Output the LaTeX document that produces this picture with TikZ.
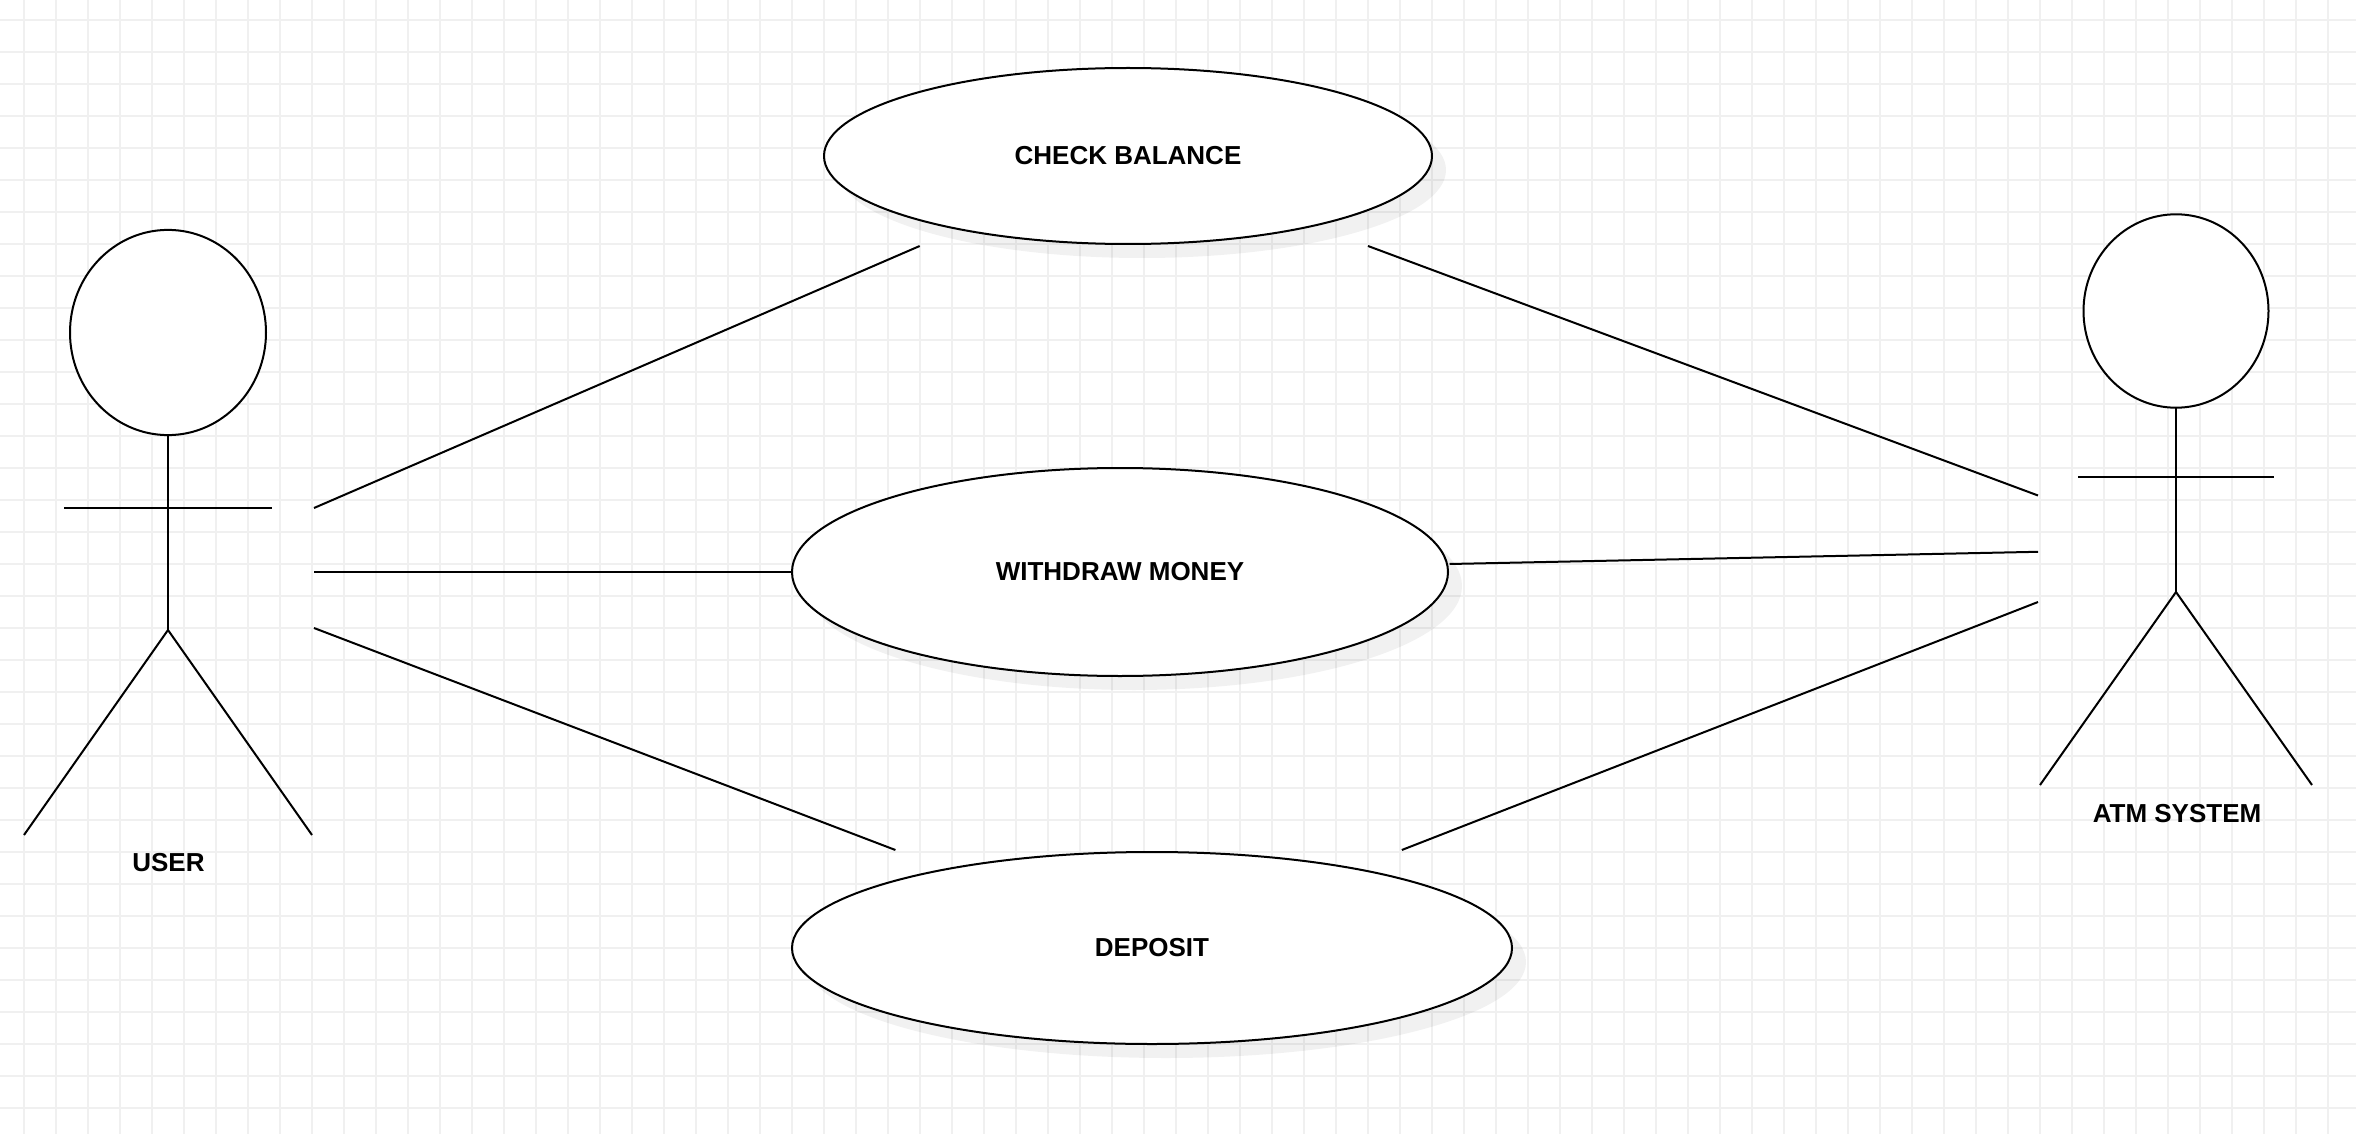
\documentclass[tikz,border=0pt]{standalone}
\usepackage{fontspec}
\setmainfont{Liberation Sans}
\usetikzlibrary{shapes.geometric}
\definecolor{gridc}{HTML}{F0F0F0}
\tikzset{
  px/.style={x=0.5pt,y=-0.5pt},
  usecase/.style={ellipse,draw=black,fill=white,line width=1pt,inner sep=0pt,outer sep=0pt,font=\fontsize{13pt}{15pt}\selectfont\bfseries,text=black},
  shadowell/.style={ellipse,fill=black,fill opacity=0.055,draw=none,inner sep=0pt,outer sep=0pt},
  head/.style={ellipse,draw=black,fill=white,line width=1pt,inner sep=0pt,outer sep=0pt},
  limb/.style={draw=black,line width=1pt,line cap=butt},
  link/.style={draw=black,line width=1pt,line cap=butt},
  lab/.style={inner sep=0pt,font=\fontsize{13pt}{15pt}\selectfont\bfseries,text=black},
  gridline/.style={draw=gridc,line width=0.8pt}
}
\begin{document}
\begin{tikzpicture}[px]
\useasboundingbox (0,0) rectangle (2356,1134);
\fill[white] (0,0) rectangle (2356,1134);
% grid
\foreach \gx in {0,...,73} {\draw[gridline] ({24+32*\gx},0) -- ({24+32*\gx},1134);}
\foreach \gy in {0,...,34} {\draw[gridline] (0,{20+32*\gy}) -- (2356,{20+32*\gy});}
% shadows
\node[shadowell,minimum width=304pt,minimum height=88pt] (s1) at (1142,170) {};
\node[shadowell,minimum width=328pt,minimum height=104pt] (s2) at (1134,586) {};
\node[shadowell,minimum width=360pt,minimum height=96pt] (s3) at (1166,962) {};
% use cases
\node[usecase,minimum width=304pt,minimum height=88pt] (check) at (1128,156) {CHECK BALANCE};
\node[usecase,minimum width=328pt,minimum height=104pt] (withdraw) at (1120,572) {WITHDRAW MONEY};
\node[usecase,minimum width=360pt,minimum height=96pt] (deposit) at (1152,948) {DEPOSIT};
% user actor
\node[head,minimum width=98pt,minimum height=102.6pt] (uhead) at (168,332.5) {};
\coordinate (uhip) at (168,630);
\coordinate (uarmL) at (64,508);
\coordinate (uarmR) at (272,508);
\coordinate (ulegL) at (24,835);
\coordinate (ulegR) at (312,835);
\draw[limb] (uhead.south) -- (uhip);
\draw[limb] (uarmL) -- (uarmR);
\draw[limb] (ulegL) -- (uhip) -- (ulegR);
\node[lab] (ulabel) at (168.5,863) {USER};
% atm actor
\node[head,minimum width=92.5pt,minimum height=96.7pt] (ahead) at (2176,311) {};
\coordinate (ahip) at (2176,592);
\coordinate (aarmL) at (2078,476.5);
\coordinate (aarmR) at (2274,476.5);
\coordinate (alegL) at (2040,785);
\coordinate (alegR) at (2312,785);
\draw[limb] (ahead.south) -- (ahip);
\draw[limb] (aarmL) -- (aarmR);
\draw[limb] (alegL) -- (ahip) -- (alegR);
\node[lab] (alabel) at (2177,813.5) {ATM SYSTEM};
% connector ends
\coordinate (u1) at (314,508);
\coordinate (u2) at (314,572);
\coordinate (u3) at (314,628);
\coordinate (a1) at (2038,495.5);
\coordinate (a2) at (2038,551.8);
\coordinate (a3) at (2038,602);
\coordinate (c1) at (919.7,246);
\coordinate (c2) at (1368,246);
\coordinate (w2) at (1449.5,564);
\coordinate (d1) at (895.4,850);
\coordinate (d2) at (1401.8,850);
\draw[link] (u1) -- (c1);
\draw[link] (u2) -- (withdraw.west);
\draw[link] (u3) -- (d1);
\draw[link] (c2) -- (a1);
\draw[link] (w2) -- (a2);
\draw[link] (d2) -- (a3);
\end{tikzpicture}
\end{document}
